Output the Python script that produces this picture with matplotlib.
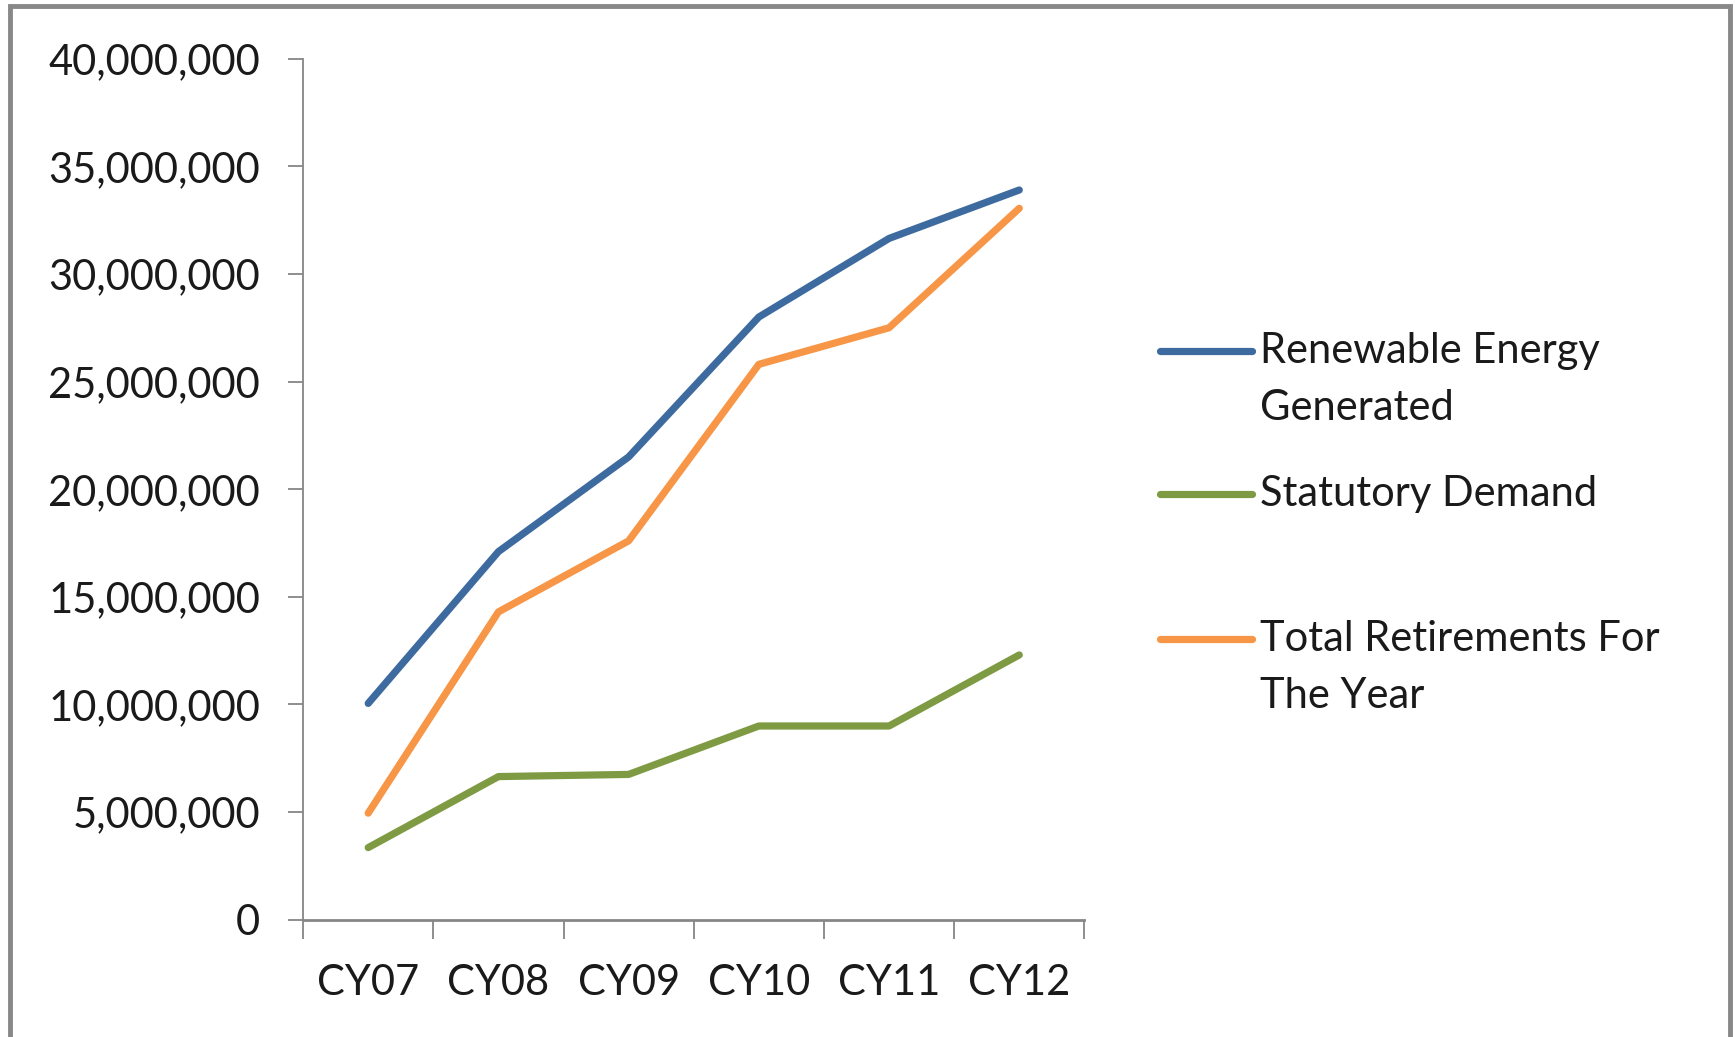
import matplotlib
matplotlib.use('Agg')
import matplotlib.pyplot as plt
from matplotlib.lines import Line2D
from matplotlib.patches import Rectangle
from matplotlib.ticker import FuncFormatter, FixedLocator

years = ["CY07", "CY08", "CY09", "CY10", "CY11", "CY12"]
renewable = [10.05e6, 17.1e6, 21.5e6, 28.0e6, 31.65e6, 33.9e6]
statutory = [3.35e6, 6.65e6, 6.75e6, 9.0e6, 9.0e6, 12.3e6]
retirements = [4.95e6, 14.3e6, 17.6e6, 25.8e6, 27.5e6, 33.05e6]

series_names = [["Renewable Energy", "Generated"], ["Statutory Demand"], ["Total Retirements For", "The Year"]]
series_colors = ["#3E6B9F", "#7E9B44", "#F79646"]

plt.rcParams['font.family'] = ['Lato', 'DejaVu Sans']
fs = 30

fig = plt.figure(figsize=(17.35, 10.37), dpi=100)
ax = fig.add_axes([0.1747, 0.1131, 0.4503, 0.8303])

x = list(range(len(years)))
for vals, c in zip([renewable, statutory, retirements], series_colors):
    ax.plot(x, vals, color=c, lw=5.2, solid_capstyle='round', solid_joinstyle='round')

ax.set_xlim(-0.5, len(years) - 0.5)
ax.set_ylim(0, 40e6)
ax.set_yticks(range(0, 40000001, 5000000))
ax.yaxis.set_major_formatter(FuncFormatter(lambda v, p: f"{int(v):,}"))

# category labels between boundary ticks
ax.xaxis.set_major_locator(FixedLocator([i - 0.5 for i in range(len(years) + 1)]))
ax.set_xticklabels([""] * (len(years) + 1))
ax.set_xticks(x, minor=True)
ax.set_xticklabels(years, minor=True)

for s in ["top", "right"]:
    ax.spines[s].set_visible(False)
for s in ["left", "bottom"]:
    ax.spines[s].set_color("#868686")
    ax.spines[s].set_linewidth(1.3)
ax.spines["bottom"].set_linewidth(2.0)

ax.tick_params(axis='y', which='major', length=11, width=1.3, color="#868686",
               labelsize=fs, labelcolor="#1a1a1a", pad=20)
ax.tick_params(axis='x', which='major', length=14, width=1.3, color="#868686")
ax.tick_params(axis='x', which='minor', length=0, labelsize=fs, labelcolor="#1a1a1a", pad=32)

# legend drawn by hand (Excel style, handle on first line)
leg_y = [0.6617, 0.524, 0.3842]
line_step = 0.0555
for names, c, y in zip(series_names, series_colors, leg_y):
    fig.add_artist(Line2D([0.6684, 0.7219], [y, y], color=c, lw=5.2,
                          solid_capstyle='round', transform=fig.transFigure))
    for k, t in enumerate(names):
        fig.text(0.7265, y - k * line_step, t, fontsize=fs, color="#1a1a1a",
                 va='center', ha='left')

# outer chart frame
fig.add_artist(Rectangle((0.0058, -0.01), 0.9915, 1.004, transform=fig.transFigure,
                         fill=False, edgecolor="#888888", lw=3.5))

fig.savefig("out.png", dpi=100)
